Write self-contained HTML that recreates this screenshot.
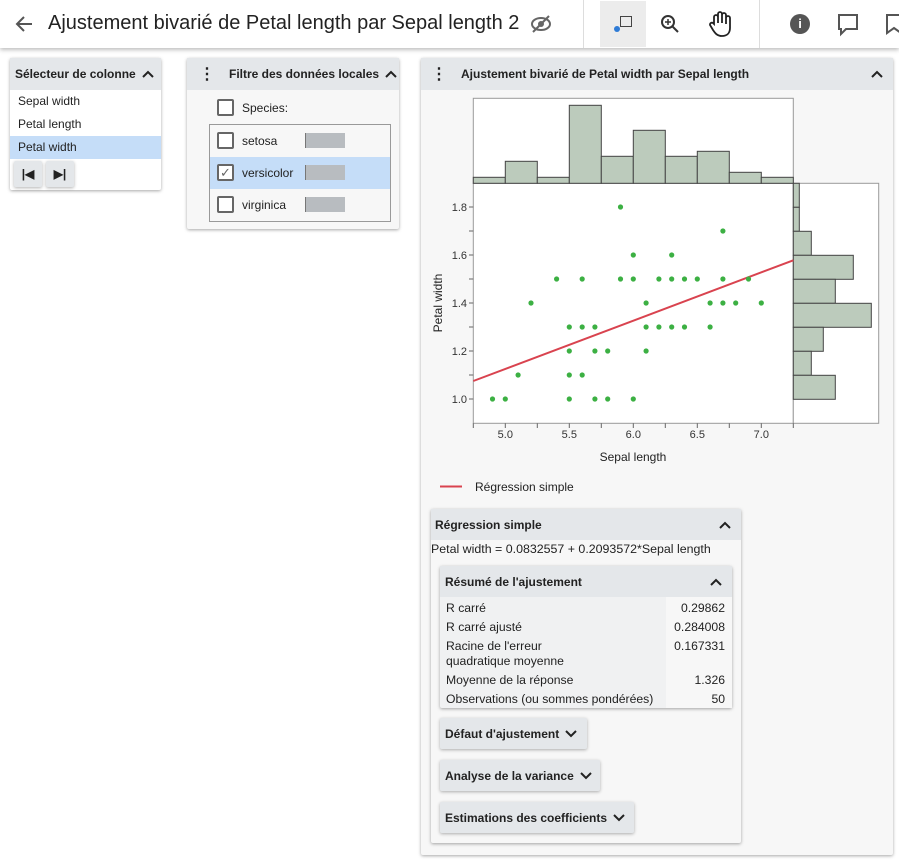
<!DOCTYPE html>
<html><head><meta charset="utf-8"><style>
*{box-sizing:border-box;margin:0;padding:0}
body{width:899px;height:860px;background:#fff;font-family:"Liberation Sans",Arial,sans-serif;font-size:12px;color:#222;position:relative;overflow:hidden}
.a{position:absolute}
.hdr{background:#e4e7ea;font-weight:bold;font-size:12px;display:flex;align-items:center}
.card{box-shadow:0 1px 3px rgba(0,0,0,.35);background:#f7f7f7;border-radius:2px}
.cb{position:absolute;width:17px;height:17px;border:2px solid #666;border-radius:2px;background:#fff}
.bar{position:absolute;width:40px;height:15px;background:#b8bcc0;border-left:1px solid #777}
.btn{position:absolute;background:#e4e7ea;box-shadow:0 1px 3px rgba(0,0,0,.3);font-weight:bold;font-size:12px;padding-left:5px;display:flex;align-items:center;border-radius:2px}
.row{position:absolute;left:6px;font-size:12.2px}
.val{position:absolute;right:7px;font-size:12.2px}
.up,.dn{display:inline-block;width:12px;height:8px;margin-left:6px}
</style></head><body>
<div class="a" style="left:0;top:0;width:899px;height:48px;background:#fff;box-shadow:0 2px 4px rgba(0,0,0,.25)"></div>
<svg class="a" style="left:14px;top:14px" width="20" height="20"><path d="M18 10H4M10 3L3 10l7 7" fill="none" stroke="#555" stroke-width="2"/></svg>
<div class="a" style="left:48px;top:12px;font-size:20px;color:#222">Ajustement bivarié de Petal length par Sepal length 2</div>
<svg class="a" style="left:530px;top:13px" width="22" height="22" viewBox="0 0 22 22"><ellipse cx="11" cy="11" rx="9" ry="6" fill="none" stroke="#666" stroke-width="2"/><circle cx="11" cy="11" r="3" fill="#666"/><line x1="3" y1="19" x2="19" y2="3" stroke="#666" stroke-width="2"/></svg>
<div class="a" style="left:583px;top:0;width:1px;height:48px;background:#ddd"></div>
<div class="a" style="left:600px;top:1px;width:46px;height:46px;background:#ececec"></div>
<div class="a" style="left:614px;top:26px;width:6px;height:6px;border-radius:3px;background:#2e7bd6"></div>
<div class="a" style="left:620px;top:16px;width:12px;height:11px;border:1.5px solid #444"></div>
<svg class="a" style="left:660px;top:14px" width="20" height="20"><circle cx="8" cy="8" r="6" fill="none" stroke="#333" stroke-width="2"/><line x1="12" y1="12" x2="18" y2="18" stroke="#333" stroke-width="2"/><line x1="5" y1="8" x2="11" y2="8" stroke="#333" stroke-width="1.5"/><line x1="8" y1="5" x2="8" y2="11" stroke="#333" stroke-width="1.5"/></svg>
<svg class="a" style="left:708px;top:10px" width="24" height="28"><path d="M6 14V7a2 2 0 0 1 4 0v6V4a2 2 0 0 1 4 0v9V5a2 2 0 0 1 4 0v9V8a2 2 0 0 1 4 0v10c0 5-3 8-8 8s-7-3-9-6l-3-5a2 2 0 0 1 3-2z" fill="none" stroke="#222" stroke-width="1.8"/></svg>
<div class="a" style="left:759px;top:0;width:1px;height:48px;background:#ddd"></div>
<div class="a" style="left:790px;top:14px;width:20px;height:20px;border-radius:10px;background:#555;color:#fff;font-weight:bold;text-align:center;line-height:20px;font-size:13px">i</div>
<svg class="a" style="left:837px;top:13px" width="22" height="24"><path d="M2 2h18v14H9l-5 5v-5H2z" fill="none" stroke="#555" stroke-width="2"/></svg>
<svg class="a" style="left:885px;top:13px" width="20" height="24"><path d="M2 2h14v18l-7-5-7 5z" fill="none" stroke="#555" stroke-width="2"/></svg>

<div class="a card" style="left:10px;top:58px;width:151px;height:132px;background:#fff">
 <div class="hdr" style="height:32px;padding-left:5px">Sélecteur de colonne<svg class="up" viewBox="0 0 12 8"><path d="M1 7l5-5 5 5" fill="none" stroke="#222" stroke-width="2"/></svg></div>
 <div style="position:absolute;top:32px;left:0;width:151px;height:23px;padding:4px 8px">Sepal width</div>
 <div style="position:absolute;top:55px;left:0;width:151px;height:23px;padding:4px 8px">Petal length</div>
 <div style="position:absolute;top:78px;left:0;width:151px;height:23px;padding:4px 8px;background:#c5ddf8">Petal width</div>
 <div class="btn" style="left:4px;top:103px;width:28px;height:26px;justify-content:center;padding:0">|◀</div>
 <div class="btn" style="left:36px;top:103px;width:28px;height:26px;justify-content:center;padding:0">▶|</div>
</div>

<div class="a card" style="left:187px;top:58px;width:212px;height:171px">
 <div class="hdr" style="height:32px;padding-left:12px"><span style="font-size:16px;margin-right:14px">⋮</span>Filtre des données locales<svg class="up" viewBox="0 0 12 8"><path d="M1 7l5-5 5 5" fill="none" stroke="#222" stroke-width="2"/></svg></div>
 <div class="cb" style="left:30px;top:41px"></div><div class="a" style="left:55px;top:43px">Species:</div>
 <div class="a" style="left:22px;top:66px;width:182px;height:98px;border:1px solid #999;background:#f7f7f7">
  <div class="cb" style="left:7px;top:7px"></div><div class="a" style="left:32px;top:9px">setosa</div><div class="bar" style="left:95px;top:8px"></div>
  <div class="a" style="left:0;top:32px;width:180px;height:32px;background:#c5ddf8"></div>
  <div class="cb" style="left:7px;top:39px;color:#666;font-size:13px;line-height:13px;text-align:center">✓</div><div class="a" style="left:32px;top:41px">versicolor</div><div class="bar" style="left:95px;top:40px"></div>
  <div class="cb" style="left:7px;top:71px"></div><div class="a" style="left:32px;top:73px">virginica</div><div class="bar" style="left:95px;top:72px"></div>
 </div>
</div>

<div class="a card" style="left:421px;top:58px;width:472px;height:797px">
 <div class="hdr" style="height:32px;padding-left:10px"><span style="font-size:16px;margin-right:14px">⋮</span>Ajustement bivarié de Petal width par Sepal length<svg class="up" style="position:absolute;right:10px" viewBox="0 0 12 8"><path d="M1 7l5-5 5 5" fill="none" stroke="#222" stroke-width="2"/></svg></div>
</div>

<svg class="a" style="left:0;top:0" width="899" height="860" font-family="Liberation Sans,Arial,sans-serif">
 <rect x="473.3" y="98.3" width="320" height="85" fill="#fff" stroke="#999"/>
 <rect x="473.3" y="183.3" width="320" height="240" fill="#fff" stroke="#999"/>
 <rect x="793.3" y="183.3" width="85.4" height="240" fill="#fff" stroke="#999"/>
 <g fill="#bccbbc" stroke="#444" stroke-width="1">
  <rect x="473.3" y="177.3" width="32" height="6"/><rect x="505.3" y="161.3" width="32" height="22"/>
  <rect x="537.3" y="177.3" width="32" height="6"/><rect x="569.3" y="105.3" width="32" height="78"/>
  <rect x="601.3" y="156.3" width="32" height="27"/><rect x="633.3" y="130.3" width="32" height="53"/>
  <rect x="665.3" y="156.3" width="32" height="27"/><rect x="697.3" y="151.3" width="32" height="32"/>
  <rect x="729.3" y="172.3" width="32" height="11"/><rect x="761.3" y="177.3" width="32" height="6"/>
  <rect x="793.3" y="183.3" width="6" height="24"/><rect x="793.3" y="207.3" width="6" height="24"/>
  <rect x="793.3" y="231.3" width="18" height="24"/><rect x="793.3" y="255.3" width="60" height="24"/>
  <rect x="793.3" y="279.3" width="42" height="24"/><rect x="793.3" y="303.3" width="78" height="24"/>
  <rect x="793.3" y="327.3" width="30" height="24"/><rect x="793.3" y="351.3" width="18" height="24"/>
  <rect x="793.3" y="375.3" width="42" height="24"/>
 </g>
 <g stroke="#666">
  <line x1="473.3" y1="423.3" x2="473.3" y2="428"/><line x1="505.3" y1="423.3" x2="505.3" y2="428"/><line x1="537.3" y1="423.3" x2="537.3" y2="428"/><line x1="569.3" y1="423.3" x2="569.3" y2="428"/><line x1="601.3" y1="423.3" x2="601.3" y2="428"/><line x1="633.3" y1="423.3" x2="633.3" y2="428"/><line x1="665.3" y1="423.3" x2="665.3" y2="428"/><line x1="697.3" y1="423.3" x2="697.3" y2="428"/><line x1="729.3" y1="423.3" x2="729.3" y2="428"/><line x1="761.3" y1="423.3" x2="761.3" y2="428"/><line x1="793.3" y1="423.3" x2="793.3" y2="428"/>
  <line x1="469" y1="207" x2="473.3" y2="207"/><line x1="469" y1="231" x2="473.3" y2="231"/><line x1="469" y1="255" x2="473.3" y2="255"/><line x1="469" y1="279" x2="473.3" y2="279"/><line x1="469" y1="303" x2="473.3" y2="303"/><line x1="469" y1="327" x2="473.3" y2="327"/><line x1="469" y1="351" x2="473.3" y2="351"/><line x1="469" y1="375" x2="473.3" y2="375"/><line x1="469" y1="399" x2="473.3" y2="399"/>
 </g>
 <g font-size="11" fill="#333" text-anchor="end">
  <text x="467" y="211">1.8</text><text x="467" y="259">1.6</text><text x="467" y="307">1.4</text><text x="467" y="355">1.2</text><text x="467" y="403">1.0</text>
 </g>
 <g font-size="11" fill="#333" text-anchor="middle">
  <text x="505.3" y="438">5.0</text><text x="569.3" y="438">5.5</text><text x="633.3" y="438">6.0</text><text x="697.3" y="438">6.5</text><text x="761.3" y="438">7.0</text>
 </g>
 <text x="633" y="461" font-size="12" text-anchor="middle" fill="#222">Sepal length</text>
 <text transform="translate(442,303) rotate(-90)" font-size="12" text-anchor="middle" fill="#222">Petal width</text>
 <line x1="473.3" y1="381.0" x2="793.3" y2="260.3" stroke="#d9434f" stroke-width="2"/>
 <g fill="#3cb043">
  <circle cx="620.5" cy="207" r="2.6"/><circle cx="722.9" cy="231" r="2.6"/>
  <circle cx="633.3" cy="255" r="2.6"/><circle cx="671.7" cy="255" r="2.6"/>
  <circle cx="556.6" cy="279" r="2.6"/><circle cx="582.2" cy="279" r="2.6"/><circle cx="620.5" cy="279" r="2.6"/><circle cx="633.3" cy="279" r="2.6"/><circle cx="658.9" cy="279" r="2.6"/><circle cx="671.7" cy="279" r="2.6"/><circle cx="684.5" cy="279" r="2.6"/><circle cx="697.3" cy="279" r="2.6"/><circle cx="722.9" cy="279" r="2.6"/><circle cx="748.5" cy="279" r="2.6"/>
  <circle cx="531" cy="303" r="2.6"/><circle cx="646.1" cy="303" r="2.6"/><circle cx="710.1" cy="303" r="2.6"/><circle cx="722.9" cy="303" r="2.6"/><circle cx="735.7" cy="303" r="2.6"/><circle cx="761.3" cy="303" r="2.6"/>
  <circle cx="569.3" cy="327" r="2.6"/><circle cx="582.2" cy="327" r="2.6"/><circle cx="594.9" cy="327" r="2.6"/><circle cx="646.1" cy="327" r="2.6"/><circle cx="658.9" cy="327" r="2.6"/><circle cx="671.7" cy="327" r="2.6"/><circle cx="684.5" cy="327" r="2.6"/><circle cx="710.1" cy="327" r="2.6"/>
  <circle cx="569.3" cy="351" r="2.6"/><circle cx="594.9" cy="351" r="2.6"/><circle cx="607.7" cy="351" r="2.6"/><circle cx="646.1" cy="351" r="2.6"/>
  <circle cx="518.1" cy="375" r="2.6"/><circle cx="569.3" cy="375" r="2.6"/><circle cx="582.2" cy="375" r="2.6"/>
  <circle cx="492.5" cy="399" r="2.6"/><circle cx="505.3" cy="399" r="2.6"/><circle cx="569.3" cy="399" r="2.6"/><circle cx="594.9" cy="399" r="2.6"/><circle cx="607.7" cy="399" r="2.6"/><circle cx="633.3" cy="399" r="2.6"/>
 </g>
 <line x1="440" y1="486.5" x2="462" y2="486.5" stroke="#d9434f" stroke-width="2"/>
 <text x="475" y="491" font-size="12" fill="#222">Régression simple</text>
</svg>

<div class="a card" style="left:431px;top:509px;width:310px;height:334px">
 <div class="hdr" style="height:31px;padding-left:4px">Régression simple<svg class="up" style="position:absolute;right:10px" viewBox="0 0 12 8"><path d="M1 7l5-5 5 5" fill="none" stroke="#222" stroke-width="2"/></svg></div>
 <div class="a" style="left:0;top:33px;font-size:12.4px">Petal width = 0.0832557 + 0.2093572*Sepal length</div>
 <div class="a card" style="left:9px;top:57px;width:292px;height:142px;background:#f0f1f2">
  <div class="hdr" style="height:31px;padding-left:5px">Résumé de l'ajustement<svg class="up" style="position:absolute;right:10px" viewBox="0 0 12 8"><path d="M1 7l5-5 5 5" fill="none" stroke="#222" stroke-width="2"/></svg></div>
  <div class="a" style="left:226px;top:31px;width:66px;height:111px;background:#f7f7f7"></div>
  <div class="row" style="top:35px">R carré</div><div class="val" style="top:35px">0.29862</div>
  <div class="row" style="top:54px">R carré ajusté</div><div class="val" style="top:54px">0.284008</div>
  <div class="row" style="top:73px;line-height:15px">Racine de l'erreur<br>quadratique moyenne</div><div class="val" style="top:73px">0.167331</div>
  <div class="row" style="top:107px">Moyenne de la réponse</div><div class="val" style="top:107px">1.326</div>
  <div class="row" style="top:126px">Observations (ou sommes pondérées)</div><div class="val" style="top:126px">50</div>
 </div>
 <div class="btn" style="left:9px;top:209px;width:147px;height:31px">Défaut d'ajustement<svg class="dn" viewBox="0 0 12 8"><path d="M1 1l5 5 5-5" fill="none" stroke="#222" stroke-width="2"/></svg></div>
 <div class="btn" style="left:9px;top:251px;width:160px;height:31px">Analyse de la variance<svg class="dn" viewBox="0 0 12 8"><path d="M1 1l5 5 5-5" fill="none" stroke="#222" stroke-width="2"/></svg></div>
 <div class="btn" style="left:9px;top:293px;width:194px;height:31px">Estimations des coefficients<svg class="dn" viewBox="0 0 12 8"><path d="M1 1l5 5 5-5" fill="none" stroke="#222" stroke-width="2"/></svg></div>
</div>
</body></html>
